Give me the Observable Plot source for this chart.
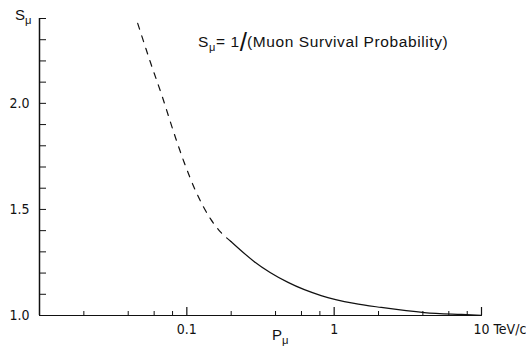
<!DOCTYPE html>
<html><head><meta charset="utf-8">
<script src="https://cdn.jsdelivr.net/npm/d3@7"></script>
<script src="https://cdn.jsdelivr.net/npm/@observablehq/plot@0.6"></script>
<style>body{margin:0;background:#fff;} svg{display:block;}</style>
</head><body><div id="chart"></div>
<script>
// Momentum (TeV/c) and S_mu
const dashedP = [0.0464, 0.0569, 0.0687, 0.0803, 0.0954, 0.1151, 0.1456, 0.1703, 0.1992];
const dashedS = [2.377, 2.189, 2.024, 1.877, 1.726, 1.585, 1.453, 1.392, 1.349];
const solidP = [0.1992, 0.2857, 0.4865, 0.8157, 1.368, 2.088, 4.094, 7.31, 10.0];
const solidS = [1.349, 1.255, 1.156, 1.094, 1.057, 1.038, 1.014, 1.005, 1.001];
const xMajorTicks = [0.1, 1, 10];
const xMinorTicks = [0.02, 0.04, 0.06, 0.08, 0.2, 0.4, 0.6, 0.8, 2, 4, 6, 8];
const yTicks = [1.0, 1.1, 1.2, 1.3, 1.4, 1.5, 1.6, 1.7, 1.8, 1.9, 2.0, 2.1, 2.2, 2.3, 2.4];
const yTickLabels = [1.0, 1.5, 2.0];
const xTickLabels = ["0.1", "1"];
const xTickLabelValues = [0.1, 1];
const xLastLabel = "10 TeV/c";
const xLastValue = 10;

const dashed = dashedP.map((p, i) => ({p, s: dashedS[i]}));
const solid = solidP.map((p, i) => ({p, s: solidS[i]}));
const ink = "#111";
const font = "'Liberation Sans', Arial, sans-serif";
const narrow = "'Liberation Sans Narrow', 'DejaVu Sans Condensed', 'Liberation Sans', sans-serif";

const plot = Plot.plot({
  width: 526, height: 347,
  marginLeft: 39, marginRight: 45, marginTop: 18, marginBottom: 32,
  style: {fontFamily: font, fontSize: "13px", color: ink, background: "#fff"},
  x: {type: "log", domain: [0.01, 10], axis: null},
  y: {domain: [1, 2.4], axis: null},
  marks: [
    Plot.ruleY([1], {stroke: ink, strokeWidth: 1.2}),
    Plot.ruleX([0.01], {stroke: ink, strokeWidth: 1.5}),
    Plot.ruleX(xMinorTicks, {x: d => d, y1: 1, y2: 1, insetTop: -4, stroke: ink, strokeWidth: 1}),
    Plot.ruleX(xMajorTicks, {x: d => d, y1: 1, y2: 1, insetTop: -8, stroke: ink, strokeWidth: 1.2}),
    Plot.ruleY(yTicks, {y: d => d, x1: 0.01, x2: 0.01, insetRight: -7, stroke: ink, strokeWidth: 1}),
    Plot.text(yTickLabels, {x: 0.01, y: d => d, text: d => d.toFixed(1), textAnchor: "end", dx: -10, fill: ink, fontSize: 14, fontFamily: narrow}),
    Plot.text(xTickLabelValues, {x: d => d, y: 1, text: (d, i) => xTickLabels[i], dy: 14, fill: ink, fontSize: 14, fontFamily: narrow}),
    Plot.text([xLastValue], {x: d => d, y: 1, text: () => xLastLabel, textAnchor: "start", dx: -8, dy: 14, fill: ink, fontSize: 14, fontFamily: narrow}),
    Plot.line(dashed, {x: "p", y: "s", stroke: ink, strokeWidth: 1.2, strokeDasharray: "6,7", curve: "monotone-x"}),
    Plot.line(solid, {x: "p", y: "s", stroke: ink, strokeWidth: 1.2, curve: "monotone-x"})
  ]
});
document.getElementById("chart").appendChild(plot);

const svg = d3.select(plot);
function subLabel(x, y, main, sub, size) {
  const t = svg.append("text").attr("x", x).attr("y", y).attr("fill", ink)
    .attr("text-anchor", "start").attr("font-family", font).attr("font-size", size);
  t.append("tspan").text(main);
  t.append("tspan").attr("dy", size * 0.28).attr("font-size", size * 0.75).text(sub);
  return t;
}
subLabel(15, 20, "S", "μ", 15);
subLabel(272, 340, "P", "μ", 15);

const title = svg.append("text").attr("x", 198).attr("y", 47).attr("fill", ink)
  .attr("text-anchor", "start").attr("font-family", font).attr("font-size", 15.5)
  .attr("letter-spacing", 0.6);
title.append("tspan").text("S");
title.append("tspan").attr("dy", 4).attr("font-size", 11).text("μ");
title.append("tspan").attr("dy", -4).text("= 1");
title.append("tspan").attr("dy", 4).attr("font-size", 26).attr("letter-spacing", 0).text("/");
title.append("tspan").attr("dy", -4).text("(Muon Survival Probability)");
</script>
</body></html>
